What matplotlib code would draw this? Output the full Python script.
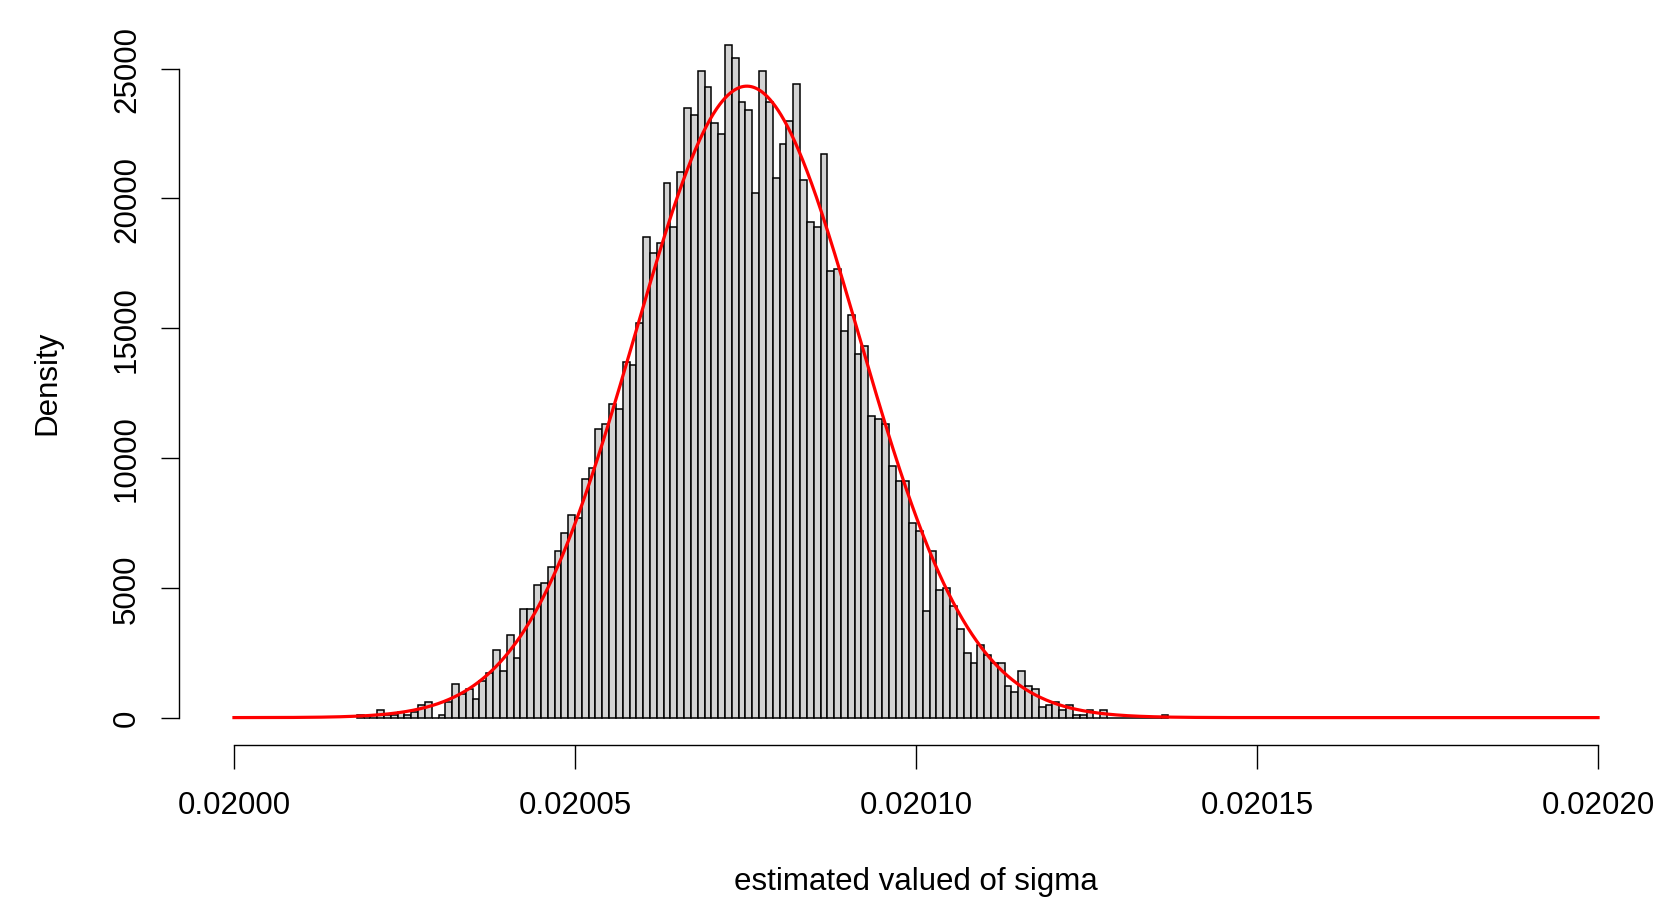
import numpy as np
import matplotlib
matplotlib.use('Agg')
import matplotlib.pyplot as plt

plt.rcParams['font.family'] = ['Liberation Sans', 'DejaVu Sans']

# histogram of sigma estimates (density scale), bins of width 1e-6
bin_start = 0.020018
bin_width = 1e-6
density = [
    100, 0, 100, 300, 100, 100, 200, 100, 200, 500,
    600, 0, 100, 600, 1300, 900, 1100, 700, 1400, 1700,
    2600, 1800, 3200, 2300, 4200, 4200, 5100, 5200, 5800, 6400,
    7100, 7800, 7700, 9200, 9600, 11100, 11300, 12100, 11900, 13700,
    13600, 15200, 18500, 17900, 18300, 20600, 18900, 21000, 23500, 23200,
    24900, 24300, 22900, 22500, 25900, 25400, 23700, 23400, 20200, 24900,
    23700, 20800, 22100, 23000, 24400, 20700, 19100, 18900, 21700, 17200,
    17300, 14900, 15500, 14000, 14300, 11600, 11500, 11300, 9700, 9100,
    9100, 7500, 7200, 4100, 6400, 4900, 5000, 4300, 3400, 2500,
    2100, 2800, 2400, 2100, 2100, 1200, 1000, 1800, 1200, 1100,
    400, 500, 600, 300, 500, 100, 100, 300, 0, 300,
    0, 0, 0, 0, 0, 0, 0, 0, 100,
]

# normal curve drawn over the histogram (parameters)
curve_mean = 0.0200752
curve_sd = 1.64e-5

x_ticks = [0.02000, 0.02005, 0.02010, 0.02015, 0.02020]
x_tick_labels = ['0.02000', '0.02005', '0.02010', '0.02015', '0.02020']
y_ticks = [0, 5000, 10000, 15000, 20000, 25000]
y_tick_labels = ['0', '5000', '10000', '15000', '20000', '25000']

W, H = 1654, 903
fig = plt.figure(figsize=(W / 100, H / 100), dpi=100)
left, right, top, bottom = 179.4, 1652.6, 19.4, 745.5
ax = fig.add_axes([left / W, 1 - bottom / H, (right - left) / W, (bottom - top) / H])

edges = bin_start + bin_width * np.arange(len(density))
ax.bar(edges, density, width=bin_width, align='edge', color='#D3D3D3',
       edgecolor='black', linewidth=1.1, zorder=2)

xs = np.linspace(x_ticks[0], x_ticks[-1], 2001)
ys = np.exp(-0.5 * ((xs - curve_mean) / curve_sd) ** 2) / (curve_sd * np.sqrt(2 * np.pi))
ax.plot(xs, ys, color='red', lw=2.3, zorder=3)

xr = x_ticks[-1] - x_ticks[0]
ax.set_xlim(x_ticks[0] - 0.04 * xr, x_ticks[-1] + 0.04 * xr)
ymax = max(density)
ax.set_ylim(-0.04 * ymax, 1.04 * ymax)

for s in ['top', 'right']:
    ax.spines[s].set_visible(False)
ax.spines['left'].set_bounds(y_ticks[0], y_ticks[-1])
ax.spines['bottom'].set_bounds(x_ticks[0], x_ticks[-1])
ax.spines['left'].set_linewidth(1.0)
ax.spines['bottom'].set_linewidth(1.0)

ax.set_xticks(x_ticks)
ax.set_xticklabels(x_tick_labels, fontsize=22.5)
ax.set_yticks(y_ticks)
ax.set_yticklabels(y_tick_labels, fontsize=22.5, rotation=90, va='center')
ax.tick_params(axis='x', length=17.5, width=1.0, pad=15)
ax.tick_params(axis='y', length=13, width=1.0, pad=14)

ax.set_xlabel('estimated valued of sigma', fontsize=22.5)
ax.xaxis.set_label_coords(0.5, -(882 - bottom) / (bottom - top))
ax.xaxis.label.set_va('center')
ax.set_ylabel('Density', fontsize=22.5)
ax.yaxis.set_label_coords(-(left - 47.5) / (right - left), 0.5)
ax.yaxis.label.set_va('center')

fig.savefig('out.png', dpi=100, facecolor='white')
